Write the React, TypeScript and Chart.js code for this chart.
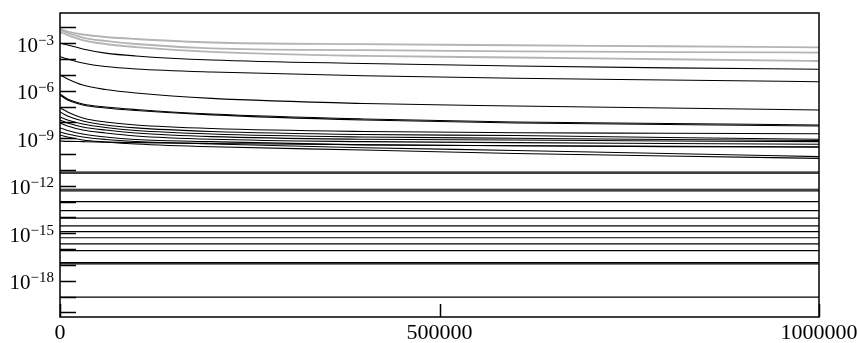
import { useEffect, useRef } from "react";
import { Chart, registerables } from "chart.js";

Chart.register(...registerables);

// sample positions along x
const times = [0, 10000, 30000, 60000, 100000, 200000, 400000, 600000, 800000, 1000000];

// light gray decaying series
const grayA = [8.0e-3, 5.56e-3, 3.6e-3, 2.5e-3, 1.87e-3, 1.12e-3, 8.8e-4, 7.5e-4, 6.5e-4, 5.6e-4];
const grayB = [6.9e-3, 4.5e-3, 2.3e-3, 1.4e-3, 9.0e-4, 4.8e-4, 3.7e-4, 3.1e-4, 2.8e-4, 2.6e-4];
const grayC = [5.2e-3, 3.3e-3, 1.6e-3, 9.0e-4, 5.8e-4, 2.9e-4, 1.6e-4, 1.27e-4, 9.8e-5, 7.6e-5];

// black decaying series
const black1 = [1.04e-3, 7.8e-4, 4.4e-4, 2.4e-4, 1.58e-4, 8.8e-5, 5.3e-5, 3.7e-5, 2.8e-5, 2.3e-5];
const black2 = [1.43e-4, 1.02e-4, 5.7e-5, 3.4e-5, 2.4e-5, 1.54e-5, 8.9e-6, 6.2e-6, 4.8e-6, 3.75e-6];
const black3 = [9.9e-6, 5.6e-6, 2.3e-6, 1.2e-6, 7.2e-7, 3.3e-7, 1.57e-7, 1.09e-7, 8.2e-8, 6.1e-8];
const black4 = [6.3e-7, 3.0e-7, 1.47e-7, 9.5e-8, 6.6e-8, 3.4e-8, 1.65e-8, 1.07e-8, 8.6e-9, 6.9e-9];
const black5 = [5.4e-7, 2.6e-7, 1.27e-7, 8.2e-8, 5.7e-8, 3.0e-8, 1.43e-8, 9.2e-9, 7.4e-9, 6.0e-9];
const black6 = [8.2e-8, 4.6e-8, 1.91e-8, 1.07e-8, 6.9e-9, 4.15e-9, 2.68e-9, 2.25e-9, 2.07e-9, 1.92e-9];
const black7 = [4.6e-8, 2.55e-8, 1.24e-8, 6.9e-9, 4.5e-9, 2.68e-9, 1.73e-9, 1.5e-9, 1.12e-9, 8.6e-10];
const black8 = [2.2e-8, 1.43e-8, 8.0e-9, 4.8e-9, 3.1e-9, 1.86e-9, 1.2e-9, 1.0e-9, 8.4e-10, 7.2e-10];
const black9 = [1.43e-8, 9.2e-9, 5.2e-9, 3.3e-9, 2.15e-9, 1.26e-9, 8.6e-10, 7.8e-10, 6.7e-10, 6.1e-10];
const black10 = [9.2e-9, 6.0e-9, 3.3e-9, 2.15e-9, 1.39e-9, 8.6e-10, 6.1e-10, 5.3e-10, 4.7e-10, 4.2e-10];
const black11 = [4.5e-9, 3.1e-9, 1.86e-9, 1.2e-9, 8.4e-10, 6.1e-10, 3.8e-10, 3.4e-10, 3.1e-10, 2.9e-10];
const black12 = [2.5e-9, 1.86e-9, 1.2e-9, 8.4e-10, 6.3e-10, 4.35e-10, 2.54e-10, 1.69e-10, 1.09e-10, 6.9e-11];
const black13 = [1.61e-9, 1.2e-9, 7.8e-10, 5.8e-10, 4.35e-10, 2.9e-10, 1.82e-10, 1.09e-10, 7.6e-11, 5.4e-11];
const black14 = [6.7e-10, 6.4e-10, 6.1e-10, 5.7e-10, 5.3e-10, 4.7e-10, 3.9e-10, 3.35e-10, 2.98e-10, 2.73e-10];

// constant series
const flatLevels = [
  7.4e-12, 6.2e-12, 6.0e-13, 4.8e-13, 9.8e-14, 2.7e-14, 8.9e-15, 2.9e-15, 1.26e-15,
  5.2e-16, 2.1e-16, 7.9e-17, 1.38e-17, 1.17e-17, 9.3e-20,
];

const xMin = 0;
const xMax = 1000000;
const yMin = 5.1e-21;
const yMax = 0.082;
const xTickValues = [0, 500000, 1000000];
const xTickLabels = ["0", "500000", "1000000"];
const yTickExponents = [-20, -19, -18, -17, -16, -15, -14, -13, -12, -11, -10, -9, -8, -7, -6, -5, -4, -3, -2];
const yLabelExponents = [-3, -6, -9, -12, -15, -18];

const grayCurves = [grayA, grayB, grayC];
const blackCurves = [
  black1, black2, black3, black4, black5, black6, black7, black8, black9,
  black10, black11, black12, black13, black14,
];

const FONT = '"Liberation Serif", "Times New Roman", serif';

const framePlugin = {
  id: "framePlugin",
  afterDraw(chart: any) {
    const { ctx, chartArea } = chart;
    const xs = chart.scales.x;
    const ys = chart.scales.y;
    ctx.save();
    ctx.strokeStyle = "#000";
    ctx.lineWidth = 1.5;
    ctx.strokeRect(chartArea.left, chartArea.top, chartArea.right - chartArea.left, chartArea.bottom - chartArea.top);
    // y ticks (inward)
    ctx.beginPath();
    for (const e of yTickExponents) {
      const y = Math.round(ys.getPixelForValue(Math.pow(10, e))) + 0.5;
      ctx.moveTo(chartArea.left, y);
      ctx.lineTo(chartArea.left + 16, y);
    }
    // x ticks (inward)
    for (const v of xTickValues) {
      const x = Math.round(xs.getPixelForValue(v)) + 0.5;
      ctx.moveTo(x, chartArea.bottom);
      ctx.lineTo(x, chartArea.bottom - 13);
    }
    ctx.stroke();

    ctx.fillStyle = "#000";
    // x labels
    ctx.font = `22px ${FONT}`;
    ctx.textAlign = "center";
    ctx.textBaseline = "alphabetic";
    xTickValues.forEach((v, i) => {
      const x = xs.getPixelForValue(v);
      ctx.fillText(xTickLabels[i], x, chartArea.bottom + 22);
    });
    // y labels with superscript exponent
    for (const e of yLabelExponents) {
      const y = ys.getPixelForValue(Math.pow(10, e));
      const expText = "\u2212" + Math.abs(e);
      ctx.font = `15px ${FONT}`;
      const ew = ctx.measureText(expText).width;
      ctx.font = `21px ${FONT}`;
      const bw = ctx.measureText("10").width;
      const right = chartArea.left - 6;
      ctx.textAlign = "left";
      ctx.fillText("10", right - ew - bw, y + 8.5);
      ctx.font = `15px ${FONT}`;
      ctx.fillText(expText, right - ew, y + 1.5);
    }
    ctx.restore();
  },
};

export default function App() {
  const ref = useRef<HTMLCanvasElement | null>(null);
  useEffect(() => {
    if (!ref.current) return;
    const datasets: any[] = [];
    blackCurves.forEach((c) => {
      datasets.push({
        data: times.map((t, i) => ({ x: t, y: c[i] })),
        borderColor: "#000",
        borderWidth: 1.1,
        pointRadius: 0,
        cubicInterpolationMode: "monotone",
      });
    });
    flatLevels.forEach((v) => {
      datasets.push({
        data: [
          { x: xMin, y: v },
          { x: xMax, y: v },
        ],
        borderColor: "#000",
        borderWidth: 1.2,
        pointRadius: 0,
      });
    });
    grayCurves.forEach((c) => {
      datasets.push({
        data: times.map((t, i) => ({ x: t, y: c[i] })),
        borderColor: "#b4b4b4",
        borderWidth: 1.8,
        pointRadius: 0,
        cubicInterpolationMode: "monotone",
      });
    });
    const chart = new Chart(ref.current, {
      type: "line",
      data: { datasets },
      options: {
        animation: false,
        responsive: false,
        events: [],
        layout: { padding: { left: 60, right: 39, top: 13, bottom: 26 } },
        plugins: { legend: { display: false }, tooltip: { enabled: false } },
        scales: {
          x: {
            type: "linear",
            min: xMin,
            max: xMax,
            ticks: { display: false },
            grid: { display: false },
            border: { display: false },
            afterFit: (s: any) => {
              s.height = 0;
            },
          },
          y: {
            type: "logarithmic",
            min: yMin,
            max: yMax,
            ticks: { display: false },
            grid: { display: false },
            border: { display: false },
            afterFit: (s: any) => {
              s.width = 0;
            },
          },
        },
      },
      plugins: [framePlugin],
    });
    return () => chart.destroy();
  }, []);
  return (
    <div style={{ position: "fixed", left: 0, top: 0, width: 858, height: 343, background: "#fff" }}>
      <canvas ref={ref} width={858} height={343} />
    </div>
  );
}
